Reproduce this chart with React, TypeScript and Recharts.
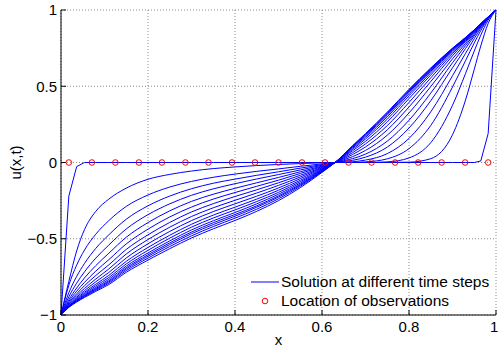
import { ComposedChart, Line, Scatter, XAxis, YAxis, CartesianGrid } from "recharts";

const FONT = '"Liberation Sans", Arial, Helvetica, sans-serif';

// spatial grid the solution curves are sampled on
const xGrid = [0, 0.018, 0.036, 0.054, 0.08, 0.11, 0.15, 0.2, 0.25, 0.3, 0.35, 0.4, 0.45, 0.5, 0.55, 0.6, 0.63, 0.67, 0.7, 0.75, 0.8, 0.85, 0.9, 0.93, 0.95, 0.965, 0.982, 1];

// u(x,t) at successive time steps
const t01 = [-1, -0.22, -0.027, 0, 0, 0, 0, 0, 0, 0, 0, 0, 0, 0, 0, 0, 0, 0, 0, 0, 0, 0, 0, 0, 0, 0.01, 0.19, 1];
const t02 = [-1, -0.78, -0.58, -0.44, -0.32, -0.24, -0.168, -0.11, -0.078, -0.056, -0.04, -0.029, -0.02, -0.013, -0.007, -0.002, 0, 0, 0, 0, 0.002, 0.025, 0.182, 0.41, 0.611, 0.764, 0.912, 1];
const t03 = [-1, -0.805, -0.673, -0.574, -0.47, -0.381, -0.288, -0.213, -0.161, -0.124, -0.097, -0.076, -0.058, -0.042, -0.025, -0.009, 0, 0, 0, 0.004, 0.03, 0.13, 0.375, 0.584, 0.731, 0.835, 0.934, 1];
const t04 = [-1, -0.854, -0.747, -0.662, -0.563, -0.474, -0.372, -0.284, -0.22, -0.172, -0.136, -0.109, -0.084, -0.061, -0.037, -0.014, 0, 0.001, 0.004, 0.024, 0.091, 0.243, 0.495, 0.668, 0.784, 0.865, 0.943, 1];
const t05 = [-1, -0.881, -0.791, -0.717, -0.627, -0.541, -0.436, -0.342, -0.271, -0.215, -0.173, -0.139, -0.108, -0.079, -0.049, -0.018, 0, 0.005, 0.016, 0.058, 0.158, 0.332, 0.569, 0.716, 0.812, 0.88, 0.946, 1];
const t06 = [-1, -0.9, -0.823, -0.757, -0.676, -0.595, -0.49, -0.394, -0.317, -0.255, -0.208, -0.169, -0.133, -0.098, -0.061, -0.023, 0, 0.014, 0.035, 0.101, 0.226, 0.405, 0.621, 0.748, 0.83, 0.889, 0.949, 1];
const t07 = [-1, -0.912, -0.844, -0.786, -0.712, -0.637, -0.534, -0.437, -0.357, -0.292, -0.24, -0.197, -0.156, -0.116, -0.072, -0.027, 0, 0.025, 0.055, 0.14, 0.277, 0.455, 0.654, 0.767, 0.84, 0.895, 0.951, 1];
const t08 = [-1, -0.921, -0.861, -0.808, -0.741, -0.671, -0.57, -0.474, -0.393, -0.324, -0.27, -0.223, -0.179, -0.133, -0.084, -0.032, 0, 0.038, 0.079, 0.179, 0.325, 0.498, 0.68, 0.781, 0.849, 0.899, 0.952, 1];
const t09 = [-1, -0.928, -0.873, -0.826, -0.764, -0.698, -0.6, -0.505, -0.424, -0.354, -0.297, -0.248, -0.2, -0.15, -0.095, -0.036, 0, 0.052, 0.102, 0.214, 0.364, 0.531, 0.7, 0.793, 0.855, 0.903, 0.953, 1];
const t10 = [-1, -0.933, -0.883, -0.84, -0.782, -0.721, -0.626, -0.533, -0.452, -0.381, -0.322, -0.271, -0.221, -0.167, -0.106, -0.041, 0, 0.064, 0.122, 0.242, 0.394, 0.555, 0.714, 0.8, 0.86, 0.905, 0.953, 1];
const t11 = [-1, -0.938, -0.891, -0.851, -0.798, -0.74, -0.648, -0.557, -0.477, -0.405, -0.345, -0.293, -0.24, -0.182, -0.117, -0.045, 0, 0.076, 0.139, 0.266, 0.419, 0.574, 0.725, 0.806, 0.862, 0.906, 0.954, 1];
const t12 = [-1, -0.941, -0.897, -0.859, -0.809, -0.754, -0.665, -0.576, -0.496, -0.424, -0.364, -0.311, -0.256, -0.196, -0.126, -0.049, 0, 0.085, 0.154, 0.284, 0.437, 0.588, 0.733, 0.81, 0.865, 0.907, 0.954, 1];
const t13 = [-1, -0.943, -0.902, -0.866, -0.819, -0.766, -0.679, -0.593, -0.514, -0.442, -0.382, -0.328, -0.271, -0.208, -0.135, -0.052, 0, 0.093, 0.165, 0.299, 0.451, 0.598, 0.739, 0.813, 0.867, 0.908, 0.955, 1];
const t14 = [-1, -0.945, -0.906, -0.872, -0.826, -0.776, -0.69, -0.605, -0.527, -0.456, -0.395, -0.341, -0.284, -0.219, -0.143, -0.056, 0, 0.099, 0.174, 0.31, 0.461, 0.606, 0.743, 0.816, 0.868, 0.909, 0.955, 1];
const t15 = [-1, -0.946, -0.908, -0.875, -0.832, -0.783, -0.699, -0.615, -0.538, -0.467, -0.407, -0.352, -0.293, -0.227, -0.149, -0.058, 0, 0.103, 0.18, 0.318, 0.469, 0.612, 0.746, 0.818, 0.869, 0.91, 0.955, 1];
const t16 = [-1, -0.948, -0.912, -0.88, -0.838, -0.791, -0.709, -0.627, -0.551, -0.481, -0.42, -0.365, -0.306, -0.238, -0.156, -0.061, 0, 0.106, 0.185, 0.324, 0.474, 0.616, 0.748, 0.819, 0.87, 0.91, 0.955, 1];
const t17 = [-1, -0.95, -0.915, -0.885, -0.845, -0.8, -0.72, -0.64, -0.565, -0.495, -0.435, -0.38, -0.32, -0.25, -0.165, -0.065, 0, 0.11, 0.19, 0.33, 0.48, 0.62, 0.75, 0.82, 0.87, 0.91, 0.955, 1];

const solutions = [t01, t02, t03, t04, t05, t06, t07, t08, t09, t10, t11, t12, t13, t14, t15, t16, t17];

// observation points
const obsX = [0.018, 0.071, 0.125, 0.179, 0.232, 0.286, 0.339, 0.393, 0.446, 0.5, 0.554, 0.607, 0.661, 0.714, 0.768, 0.821, 0.875, 0.929, 0.982];
const obsU = [0, 0, 0, 0, 0, 0, 0, 0, 0, 0, 0, 0, 0, 0, 0, 0, 0, 0, 0];

const xTicks = [0, 0.2, 0.4, 0.6, 0.8, 1];
const yTicks = [-1, -0.5, 0, 0.5, 1];
const legendNames = ["Solution at different time steps", "Location of observations"];

const BLUE = "#0000ff";
const RED = "#ff0000";

const fmt = (v: number) => (v < 0 ? "\u2212" + Math.abs(v) : String(v));
const blank = () => "";

const tickStyle = { fill: "#000", fontSize: 15, fontFamily: FONT };

function Circle(props: any) {
  const { cx, cy } = props;
  return <circle cx={cx} cy={cy} r={2.8} fill="none" stroke={RED} strokeWidth={1} />;
}

export default function App() {
  const obsData = obsX.map((x, i) => ({ x, y: obsU[i] }));

  return (
    <div style={{ position: "absolute", left: 0, top: 0, width: 498, height: 348, background: "#fff" }}>
      <ComposedChart width={498} height={348} margin={{ top: 10, right: 2, bottom: 0, left: 0 }}>
        <CartesianGrid stroke="#8c8c8c" strokeDasharray="1 2" />
        <XAxis
          dataKey="x"
          type="number"
          domain={[0, 1]}
          ticks={xTicks}
          height={33}
          tickSize={-5}
          tickMargin={11}
          tick={tickStyle}
          stroke="#000"
          tickFormatter={fmt}
          label={{ value: "x", position: "insideBottom", offset: 3, fill: "#000", fontSize: 15, fontFamily: FONT }}
        />
        <XAxis
          xAxisId="top"
          orientation="top"
          type="number"
          domain={[0, 1]}
          ticks={xTicks}
          height={0}
          tickSize={-5}
          tickFormatter={blank}
          stroke="#000"
        />
        <YAxis
          type="number"
          domain={[-1, 1]}
          ticks={yTicks}
          width={61}
          tickSize={-5}
          tickMargin={9}
          tick={tickStyle}
          stroke="#000"
          tickFormatter={fmt}
          label={{
            value: "u(x,t)",
            angle: -90,
            position: "insideLeft",
            offset: 16,
            fill: "#000",
            fontSize: 15,
            fontFamily: FONT,
            style: { textAnchor: "middle" },
          }}
        />
        <YAxis
          yAxisId="right"
          orientation="right"
          type="number"
          domain={[-1, 1]}
          ticks={yTicks}
          width={0}
          tickSize={-5}
          tickFormatter={blank}
          stroke="#000"
        />
        {solutions.map((u, k) => (
          <Line
            key={k}
            data={xGrid.map((x, i) => ({ x, y: u[i] }))}
            dataKey="y"
            type={k === 0 ? "linear" : "monotone"}
            stroke={BLUE}
            strokeWidth={1}
            dot={false}
            activeDot={false}
            isAnimationActive={false}
          />
        ))}
        <Scatter data={obsData} dataKey="y" shape={<Circle />} isAnimationActive={false} />
      </ComposedChart>

      <div
        style={{
          position: "absolute",
          left: 250,
          top: 273,
          fontFamily: FONT,
          fontSize: 15.5,
          color: "#000",
          whiteSpace: "nowrap",
        }}
      >
        {legendNames.map((name, i) => (
          <div key={name} style={{ display: "flex", alignItems: "center", height: 18.5 }}>
            <svg width={31} height={18} style={{ display: "block" }}>
              {i === 0 ? (
                <line x1={1} x2={29} y1={9} y2={9} stroke={BLUE} strokeWidth={1} />
              ) : (
                <circle cx={15} cy={9} r={2.8} fill="none" stroke={RED} strokeWidth={1} />
              )}
            </svg>
            <span>{name}</span>
          </div>
        ))}
      </div>
    </div>
  );
}
